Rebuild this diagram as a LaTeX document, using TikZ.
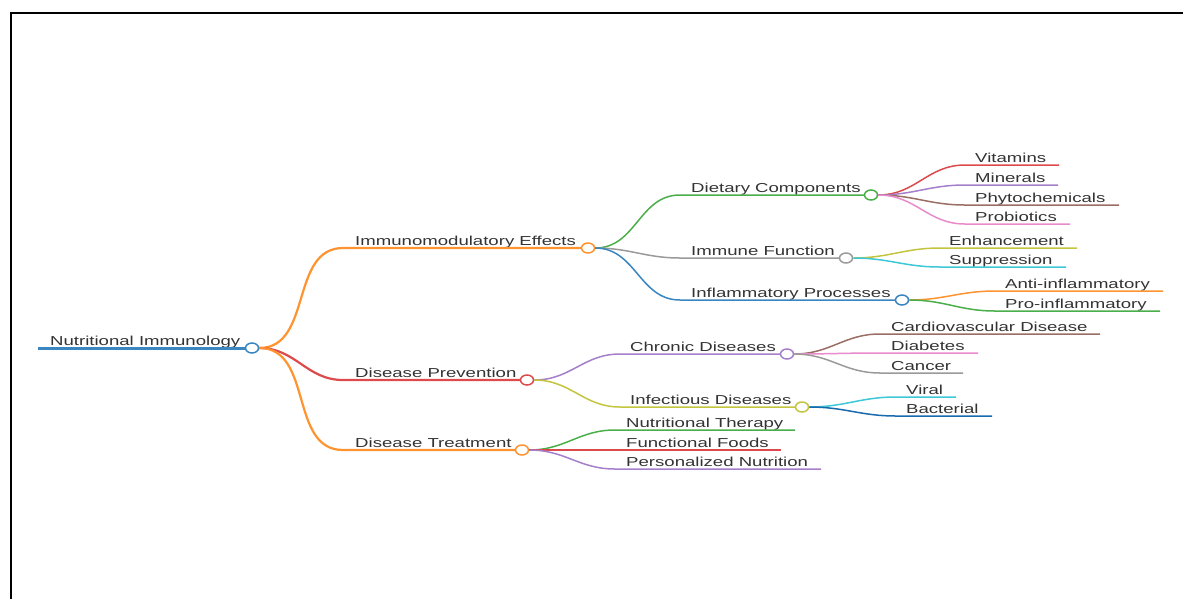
\documentclass[tikz,border=0pt]{standalone}
\usepackage{fontspec}
\setmainfont{Liberation Sans}[FakeStretch=1.43]
\usetikzlibrary{shapes.geometric}

\definecolor{cBlue}{HTML}{3A86C0}
\definecolor{cOrange}{HTML}{FF9330}
\definecolor{cGreen}{HTML}{4AAE4A}
\definecolor{cRed}{HTML}{DD4A4B}
\definecolor{cPurple}{HTML}{A57FCB}
\definecolor{cBrown}{HTML}{9A6E64}
\definecolor{cPink}{HTML}{E98ACC}
\definecolor{cGray}{HTML}{9A9A9A}
\definecolor{cOlive}{HTML}{C4C53E}
\definecolor{cCyan}{HTML}{3CC8D6}
\definecolor{cNavy}{HTML}{1A6AAE}
\definecolor{txtgray}{HTML}{333333}

\begin{document}
\begin{tikzpicture}[x=1pt,y=-1pt,
    txt/.style={anchor=base west,inner sep=0pt,text=txtgray,font=\fontsize{13}{15}\selectfont},
    knob/.style={ellipse,draw=#1,fill=white,line width=1.5pt,minimum width=13pt,minimum height=10pt,inner sep=0pt},
    edge/.style={line width=1.5pt,out=0,in=180,looseness=1.05},
    edgeA/.style={edge,line width=2.2pt}]
\useasboundingbox (0,0) rectangle (1183,598);
\begin{scope}
\clip (0,0) rectangle (1183,598);
\draw [line width=2pt] (10.5,610) |- (1200,12.5);
\end{scope}

% root
\coordinate (rootS) at (38,348);
\node [knob=cBlue] (root) at (252,348) {};
\node [txt] at (50,345) {Nutritional Immunology};
\draw [line width=3pt,cBlue] (rootS) -- (root.west);

% first level
\node [knob=cOrange] (imm) at (588,248) {};
\node [knob=cRed] (prev) at (527,380) {};
\node [knob=cOrange] (treat) at (522,450) {};
\coordinate (immS) at (343,248);
\coordinate (prevS) at (343,380);
\coordinate (treatS) at (343,450);
\node [txt] at (355,245) {Immunomodulatory Effects};
\node [txt] at (355,377) {Disease Prevention};
\node [txt] at (355,447) {Disease Treatment};
\draw [edgeA,cOrange] (root.east) to (immS) -- (imm.west);
\draw [edgeA,cRed] (root.east) to (prevS) -- (prev.west);
\draw [edgeA,cOrange] (root.east) to (treatS) -- (treat.west);

% immunomodulatory effects
\node [knob=cGreen] (diet) at (871,195) {};
\node [knob=cGray] (immf) at (846,258) {};
\node [knob=cBlue] (infl) at (902,300) {};
\coordinate (dietS) at (680,195);
\coordinate (immfS) at (680,258);
\coordinate (inflS) at (680,300);
\node [txt] at (691,192) {Dietary Components};
\node [txt] at (691,255) {Immune Function};
\node [txt] at (691,297) {Inflammatory Processes};
\draw [edge,cGreen] (imm.east) to (dietS) -- (diet.west);
\draw [edge,cGray] (imm.east) to (immfS) -- (immf.west);
\draw [edge,cBlue] (imm.east) to (inflS) -- (infl.west);

% dietary components
\coordinate (vitS) at (965,165); \coordinate (vitE) at (1059,165);
\coordinate (minS) at (965,185); \coordinate (minE) at (1058,185);
\coordinate (phyS) at (965,205); \coordinate (phyE) at (1119,205);
\coordinate (proS) at (965,224); \coordinate (proE) at (1070,224);
\node [txt] at (975,162) {Vitamins};
\node [txt] at (975,182) {Minerals};
\node [txt] at (975,202) {Phytochemicals};
\node [txt] at (975,221) {Probiotics};
\draw [edge,cRed] (diet.east) to (vitS) -- (vitE);
\draw [edge,cPurple] (diet.east) to (minS) -- (minE);
\draw [edge,cBrown] (diet.east) to (phyS) -- (phyE);
\draw [edge,cPink] (diet.east) to (proS) -- (proE);

% immune function
\coordinate (enhS) at (940,248); \coordinate (enhE) at (1077,248);
\coordinate (supS) at (940,267); \coordinate (supE) at (1066,267);
\node [txt] at (949,245) {Enhancement};
\node [txt] at (949,264) {Suppression};
\draw [edge,cOlive] (immf.east) to (enhS) -- (enhE);
\draw [edge,cCyan] (immf.east) to (supS) -- (supE);

% inflammatory processes
\coordinate (antiS) at (995,291); \coordinate (antiE) at (1163,291);
\coordinate (proiS) at (995,311); \coordinate (proiE) at (1160,311);
\node [txt] at (1005,288) {Anti-inflammatory};
\node [txt] at (1005,308) {Pro-inflammatory};
\draw [edge,cOrange] (infl.east) to (antiS) -- (antiE);
\draw [edge,cGreen] (infl.east) to (proiS) -- (proiE);

% disease prevention
\node [knob=cPurple] (chr) at (787,354) {};
\node [knob=cOlive] (inf) at (802,407) {};
\coordinate (chrS) at (620,354);
\coordinate (infS) at (620,407);
\node [txt] at (630,351) {Chronic Diseases};
\node [txt] at (630,404) {Infectious Diseases};
\draw [edge,cPurple] (prev.east) to (chrS) -- (chr.west);
\draw [edge,cOlive] (prev.east) to (infS) -- (inf.west);

% chronic diseases
\coordinate (cardS) at (880,334); \coordinate (cardE) at (1100,334);
\coordinate (diaS) at (880,353); \coordinate (diaE) at (978,353);
\coordinate (canS) at (880,373); \coordinate (canE) at (963,373);
\node [txt] at (891,331) {Cardiovascular Disease};
\node [txt] at (891,350) {Diabetes};
\node [txt] at (891,370) {Cancer};
\draw [edge,cBrown] (chr.east) to (cardS) -- (cardE);
\draw [edge,cPink] (chr.east) to (diaS) -- (diaE);
\draw [edge,cGray] (chr.east) to (canS) -- (canE);

% infectious diseases
\coordinate (virS) at (896,397); \coordinate (virE) at (956,397);
\coordinate (bacS) at (896,416); \coordinate (bacE) at (992,416);
\node [txt] at (906,394) {Viral};
\node [txt] at (906,413) {Bacterial};
\draw [edge,cCyan] (inf.east) to (virS) -- (virE);
\draw [edge,cNavy] (inf.east) to (bacS) -- (bacE);

% disease treatment
\coordinate (ntS) at (615,430); \coordinate (ntE) at (795,430);
\coordinate (ffS) at (615,450); \coordinate (ffE) at (781,450);
\coordinate (pnS) at (615,469); \coordinate (pnE) at (821,469);
\node [txt] at (626,427) {Nutritional Therapy};
\node [txt] at (626,447) {Functional Foods};
\node [txt] at (626,466) {Personalized Nutrition};
\draw [edge,cGreen] (treat.east) to (ntS) -- (ntE);
\draw [edge,cRed] (treat.east) to (ffS) -- (ffE);
\draw [edge,cPurple] (treat.east) to (pnS) -- (pnE);
\end{tikzpicture}
\end{document}
